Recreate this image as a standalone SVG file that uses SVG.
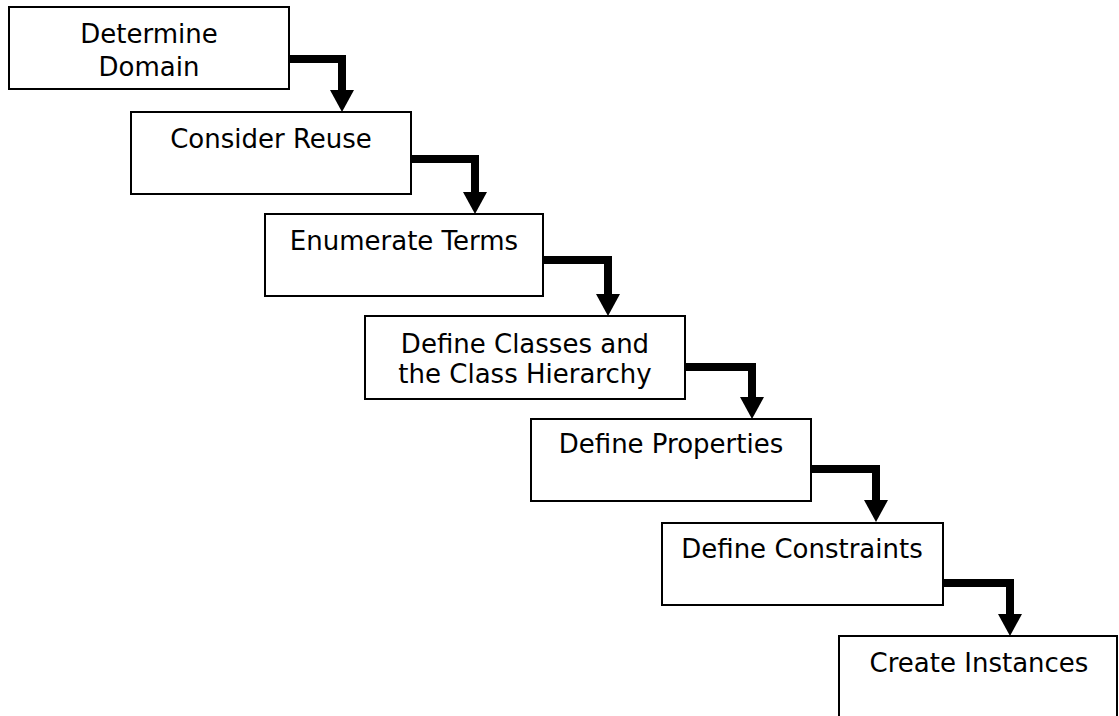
<svg xmlns="http://www.w3.org/2000/svg" width="1119" height="716" viewBox="0 0 1119 716">
<style>
.box{fill:#ffffff;stroke:#000000;stroke-width:2}
.lbl{font-family:"DejaVu Sans","Verdana",sans-serif;font-size:26px;fill:#000000;text-anchor:middle}
.arr{fill:none;stroke:#000000;stroke-width:8;stroke-linejoin:miter;marker-end:url(#head)}
</style>
<defs>
<marker id="head" markerUnits="userSpaceOnUse" viewBox="0 -12 22 24" refX="0" refY="0" markerWidth="22" markerHeight="24" orient="auto">
<path d="M0,-12 L22,0 L0,12 z" fill="#000000"/>
</marker>
</defs>
<rect width="1119" height="716" fill="#ffffff"/>
<g id="connectors">
<path class="arr" d="M289,59 H342 V90"/>
<path class="arr" d="M411,159 H475 V192"/>
<path class="arr" d="M543,260 H608 V294"/>
<path class="arr" d="M685,367 H752 V397"/>
<path class="arr" d="M811,469 H876 V500"/>
<path class="arr" d="M943,583 H1010 V614"/>
</g>
<g id="determine-domain">
<rect class="box" x="9" y="7" width="280" height="82"/>
<text class="lbl" x="149" y="43">Determine</text>
<text class="lbl" x="149" y="76">Domain</text>
</g>
<g id="consider-reuse">
<rect class="box" x="131" y="112" width="280" height="82"/>
<text class="lbl" x="271" y="148">Consider Reuse</text>
</g>
<g id="enumerate-terms">
<rect class="box" x="265" y="214" width="278" height="82"/>
<text class="lbl" x="404" y="250">Enumerate Terms</text>
</g>
<g id="define-classes">
<rect class="box" x="365" y="316" width="320" height="83"/>
<text class="lbl" x="525" y="353">Define Classes and</text>
<text class="lbl" x="525" y="383">the Class Hierarchy</text>
</g>
<g id="define-properties">
<rect class="box" x="531" y="419" width="280" height="82"/>
<text class="lbl" x="671" y="453">Define Properties</text>
</g>
<g id="define-constraints">
<rect class="box" x="662" y="523" width="281" height="82"/>
<text class="lbl" x="802" y="558">Define Constraints</text>
</g>
<g id="create-instances">
<rect class="box" x="839" y="636" width="278" height="90"/>
<text class="lbl" x="979" y="672">Create Instances</text>
</g>
</svg>
